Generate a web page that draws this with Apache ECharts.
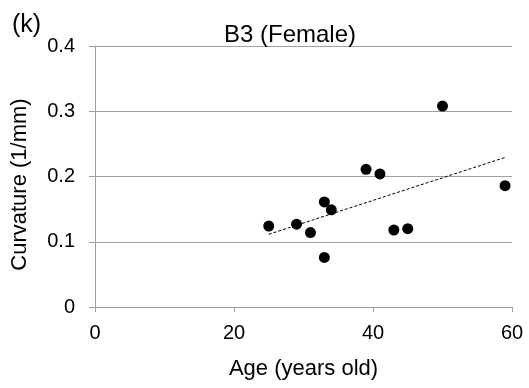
<!DOCTYPE html>
<html>
<head>
<meta charset="utf-8">
<script src="https://cdn.jsdelivr.net/npm/echarts@6/dist/echarts.min.js"></script>
<style>html,body{margin:0;padding:0;background:#fff}#c{width:529px;height:388px}</style>
</head>
<body>
<div id="c"></div>
<script>
var ages = [25, 29, 31, 33, 34, 33, 39, 41, 43, 45, 50, 59];
var curvature = [0.124, 0.127, 0.114, 0.161, 0.149, 0.076, 0.211, 0.204, 0.118, 0.120, 0.308, 0.186];
var xTicks = [0, 20, 40, 60];
var yTicks = [0, 0.1, 0.2, 0.3, 0.4];

var n = ages.length, mx = 0, my = 0;
for (var i = 0; i < n; i++) { mx += ages[i]; my += curvature[i]; }
mx /= n; my /= n;
var sxy = 0, sxx = 0;
for (var i = 0; i < n; i++) { sxy += (ages[i] - mx) * (curvature[i] - my); sxx += (ages[i] - mx) * (ages[i] - mx); }
var slope = sxy / sxx, icpt = my - slope * mx;
var x0 = Math.min.apply(null, ages), x1 = Math.max.apply(null, ages);
var trend = [[x0, icpt + slope * x0], [x1, icpt + slope * x1]];

var font = 'Liberation Sans, Arial, sans-serif';
var chart = echarts.init(document.getElementById('c'), null, {renderer: 'canvas'});
chart.setOption({
  animation: false,
  backgroundColor: '#fff',
  title: {
    text: 'B3 (Female)', left: 285, top: 18, textAlign: 'center',
    textStyle: {fontFamily: font, fontSize: 24, fontWeight: 'normal', color: '#000'}
  },
  graphic: [{
    type: 'text', left: 12, top: 13,
    style: {text: '(k)', font: '25px ' + font, fill: '#000'}
  }],
  grid: {left: 95, right: 17, top: 46, bottom: 81, containLabel: false},
  xAxis: {
    type: 'value', min: 0, max: 60, interval: 20,
    name: 'Age (years old)', nameLocation: 'middle', nameGap: 51,
    nameTextStyle: {fontFamily: font, fontSize: 22, color: '#000'},
    axisLine: {lineStyle: {color: '#a0a0a0', width: 1}},
    axisTick: {show: true, length: 5, lineStyle: {color: '#a0a0a0'}},
    axisLabel: {fontFamily: font, fontSize: 20, color: '#000', margin: 16,
      formatter: function (v) { return xTicks.indexOf(v) >= 0 ? String(v) : ''; }},
    splitLine: {show: false}
  },
  yAxis: {
    type: 'value', min: 0, max: 0.4, interval: 0.1,
    name: 'Curvature (1/mm)', nameLocation: 'middle', nameGap: 64, nameRotate: 90,
    nameTextStyle: {fontFamily: font, fontSize: 22, color: '#000', padding: [0, 16, 0, 0]},
    axisLine: {show: true, lineStyle: {color: '#a0a0a0', width: 1}},
    axisTick: {show: true, length: 6, lineStyle: {color: '#a0a0a0'}},
    axisLabel: {fontFamily: font, fontSize: 20, color: '#000', margin: 20,
      formatter: function (v) {
        for (var k = 0; k < yTicks.length; k++) if (Math.abs(yTicks[k] - v) < 1e-9) return v === 0 ? '0' : v.toFixed(1);
        return '';
      }},
    splitLine: {show: true, lineStyle: {color: '#a0a0a0', width: 1}}
  },
  series: [{
    type: 'scatter',
    data: ages.map(function (a, i) { return [a, curvature[i]]; }),
    symbol: 'circle', symbolSize: 11,
    itemStyle: {color: '#000', opacity: 1},
    z: 3
  }, {
    type: 'line', data: trend, symbol: 'none',
    lineStyle: {color: '#000', width: 1, type: [3, 2]},
    z: 2
  }]
});
</script>
</body>
</html>
